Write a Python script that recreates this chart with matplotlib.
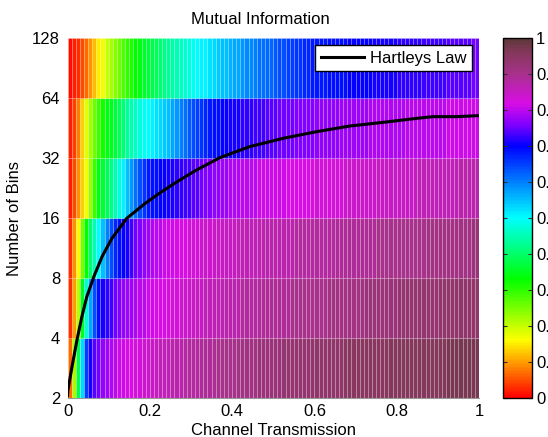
import numpy as np
import matplotlib
matplotlib.use("Agg")
import matplotlib.pyplot as plt
from matplotlib.colors import LinearSegmentedColormap

plt.rcParams['font.family'] = ['Liberation Sans', 'DejaVu Sans']
plt.rcParams['font.size'] = 12

# Bin-count edges (rows) and channel-transmission edges (columns)
bin_edges = [2, 4, 8, 16, 32, 64, 128]
transmission_edges = np.round(np.arange(0, 101) * 0.01, 2)

# Normalised mutual information, one list per row (bottom row first)
mi_bins_2 = [
    0.07, 0.22, 0.38, 0.53, 0.65, 0.71, 0.74, 0.75, 0.77, 0.78,
    0.79, 0.80, 0.81, 0.81, 0.82, 0.82, 0.83, 0.83, 0.84, 0.84,
    0.85, 0.85, 0.86, 0.86, 0.86, 0.87, 0.87, 0.87, 0.88, 0.88,
    0.88, 0.88, 0.89, 0.89, 0.89, 0.89, 0.90, 0.90, 0.90, 0.90,
    0.90, 0.91, 0.91, 0.91, 0.91, 0.91, 0.92, 0.92, 0.92, 0.92,
    0.92, 0.92, 0.93, 0.93, 0.93, 0.93, 0.93, 0.93, 0.93, 0.94,
    0.94, 0.94, 0.94, 0.94, 0.94, 0.94, 0.94, 0.95, 0.95, 0.95,
    0.95, 0.95, 0.95, 0.95, 0.95, 0.95, 0.95, 0.95, 0.96, 0.96,
    0.96, 0.96, 0.96, 0.96, 0.96, 0.96, 0.96, 0.96, 0.96, 0.96,
    0.96, 0.96, 0.97, 0.97, 0.97, 0.97, 0.97, 0.97, 0.97, 0.97,
]
mi_bins_4 = [
    0.03, 0.10, 0.21, 0.35, 0.47, 0.57, 0.64, 0.69, 0.71, 0.72,
    0.73, 0.75, 0.76, 0.77, 0.78, 0.78, 0.79, 0.80, 0.80, 0.81,
    0.81, 0.82, 0.82, 0.82, 0.83, 0.83, 0.83, 0.84, 0.84, 0.84,
    0.85, 0.85, 0.85, 0.86, 0.86, 0.86, 0.86, 0.87, 0.87, 0.87,
    0.87, 0.87, 0.88, 0.88, 0.88, 0.88, 0.88, 0.89, 0.89, 0.89,
    0.89, 0.89, 0.89, 0.89, 0.90, 0.90, 0.90, 0.90, 0.90, 0.90,
    0.90, 0.90, 0.90, 0.91, 0.91, 0.91, 0.91, 0.91, 0.91, 0.91,
    0.91, 0.91, 0.92, 0.92, 0.92, 0.92, 0.92, 0.92, 0.92, 0.92,
    0.93, 0.93, 0.93, 0.93, 0.93, 0.93, 0.93, 0.93, 0.93, 0.93,
    0.93, 0.94, 0.94, 0.94, 0.94, 0.94, 0.94, 0.94, 0.94, 0.94,
]
mi_bins_8 = [
    0.03, 0.09, 0.16, 0.25, 0.33, 0.40, 0.45, 0.50, 0.55, 0.60,
    0.64, 0.67, 0.69, 0.70, 0.71, 0.73, 0.75, 0.76, 0.77, 0.78,
    0.79, 0.80, 0.80, 0.81, 0.81, 0.81, 0.82, 0.82, 0.82, 0.83,
    0.83, 0.83, 0.84, 0.84, 0.84, 0.84, 0.85, 0.85, 0.85, 0.85,
    0.85, 0.86, 0.86, 0.86, 0.86, 0.86, 0.86, 0.87, 0.87, 0.87,
    0.87, 0.87, 0.87, 0.87, 0.87, 0.88, 0.88, 0.88, 0.88, 0.88,
    0.88, 0.88, 0.88, 0.88, 0.88, 0.89, 0.89, 0.89, 0.89, 0.89,
    0.89, 0.89, 0.89, 0.89, 0.89, 0.90, 0.90, 0.90, 0.90, 0.90,
    0.90, 0.90, 0.90, 0.90, 0.90, 0.90, 0.90, 0.91, 0.91, 0.91,
    0.91, 0.91, 0.91, 0.91, 0.91, 0.91, 0.91, 0.91, 0.92, 0.92,
]
mi_bins_16 = [
    0.02, 0.05, 0.09, 0.13, 0.17, 0.23, 0.29, 0.34, 0.37, 0.39,
    0.42, 0.45, 0.48, 0.51, 0.55, 0.58, 0.61, 0.64, 0.66, 0.68,
    0.69, 0.69, 0.70, 0.70, 0.71, 0.71, 0.72, 0.72, 0.73, 0.73,
    0.74, 0.74, 0.75, 0.76, 0.76, 0.77, 0.77, 0.78, 0.78, 0.79,
    0.79, 0.79, 0.80, 0.80, 0.80, 0.80, 0.81, 0.81, 0.81, 0.81,
    0.81, 0.81, 0.81, 0.82, 0.82, 0.82, 0.82, 0.82, 0.82, 0.83,
    0.83, 0.83, 0.83, 0.83, 0.83, 0.83, 0.83, 0.84, 0.84, 0.84,
    0.84, 0.84, 0.84, 0.84, 0.84, 0.85, 0.85, 0.85, 0.85, 0.85,
    0.85, 0.85, 0.85, 0.85, 0.85, 0.86, 0.86, 0.86, 0.86, 0.86,
    0.86, 0.86, 0.86, 0.86, 0.86, 0.87, 0.87, 0.87, 0.87, 0.87,
]
mi_bins_32 = [
    0.02, 0.04, 0.08, 0.13, 0.18, 0.22, 0.26, 0.29, 0.32, 0.34,
    0.35, 0.37, 0.39, 0.41, 0.43, 0.45, 0.46, 0.48, 0.49, 0.50,
    0.51, 0.52, 0.53, 0.54, 0.55, 0.57, 0.58, 0.60, 0.61, 0.63,
    0.64, 0.65, 0.66, 0.67, 0.68, 0.69, 0.69, 0.70, 0.70, 0.71,
    0.71, 0.71, 0.72, 0.72, 0.72, 0.73, 0.73, 0.73, 0.74, 0.74,
    0.74, 0.75, 0.75, 0.75, 0.75, 0.76, 0.76, 0.76, 0.76, 0.76,
    0.77, 0.77, 0.77, 0.77, 0.77, 0.77, 0.78, 0.78, 0.78, 0.78,
    0.78, 0.78, 0.78, 0.79, 0.79, 0.79, 0.79, 0.79, 0.79, 0.79,
    0.79, 0.79, 0.80, 0.80, 0.80, 0.80, 0.80, 0.80, 0.80, 0.80,
    0.80, 0.80, 0.81, 0.81, 0.81, 0.81, 0.81, 0.81, 0.81, 0.81,
]
mi_bins_64 = [
    0.01, 0.02, 0.03, 0.05, 0.07, 0.09, 0.12, 0.15, 0.17, 0.20,
    0.22, 0.24, 0.26, 0.28, 0.30, 0.31, 0.33, 0.34, 0.36, 0.37,
    0.38, 0.39, 0.41, 0.42, 0.43, 0.44, 0.45, 0.46, 0.47, 0.48,
    0.49, 0.50, 0.51, 0.51, 0.52, 0.53, 0.54, 0.55, 0.55, 0.56,
    0.57, 0.57, 0.58, 0.59, 0.59, 0.60, 0.61, 0.61, 0.62, 0.62,
    0.63, 0.64, 0.64, 0.65, 0.65, 0.66, 0.66, 0.67, 0.67, 0.68,
    0.68, 0.68, 0.68, 0.69, 0.69, 0.69, 0.69, 0.69, 0.70, 0.70,
    0.70, 0.70, 0.70, 0.70, 0.71, 0.71, 0.71, 0.71, 0.71, 0.71,
    0.72, 0.72, 0.72, 0.72, 0.72, 0.72, 0.73, 0.73, 0.73, 0.73,
    0.73, 0.73, 0.74, 0.74, 0.74, 0.74, 0.74, 0.74, 0.75, 0.75,
]

# Hartley's law: number of distinguishable levels vs. transmission
hartley_x = [0.0, 0.001, 0.011, 0.023, 0.035, 0.047, 0.064, 0.084, 0.108,
             0.144, 0.189, 0.229, 0.27, 0.31, 0.347, 0.37, 0.443, 0.525,
             0.606, 0.686, 0.767, 0.849, 0.889, 0.946, 0.998]
hartley_bins = [2.05, 2.19, 2.87, 3.91, 5.12, 6.45, 8.12, 10.24, 12.65,
                15.94, 18.95, 21.69, 24.6, 27.6, 30.3, 32.1, 36.5, 40.2,
                43.4, 46.3, 48.3, 50.6, 51.6, 51.6, 52.2]

colorbar_ticks = [0, 0.1, 0.2, 0.3, 0.4, 0.5, 0.6, 0.7, 0.8, 0.9, 1]
x_ticks = [0, 0.2, 0.4, 0.6, 0.8, 1]

# Rainbow map that runs red -> violet and then fades to a dark brown
cmap = LinearSegmentedColormap.from_list("mi_rainbow", [
    (0.00, (1.00, 0.00, 0.00)),
    (0.08, (1.00, 0.50, 0.00)),
    (0.16, (1.00, 1.00, 0.00)),
    (0.33, (0.00, 1.00, 0.00)),
    (0.50, (0.00, 1.00, 1.00)),
    (0.70, (0.00, 0.00, 1.00)),
    (0.76, (0.50, 0.00, 1.00)),
    (0.82, (0.85, 0.05, 0.90)),
    (0.90, (0.66, 0.19, 0.55)),
    (0.96, (0.52, 0.22, 0.36)),
    (1.00, (0.36, 0.22, 0.22)),
], N=256)

mi = np.array([mi_bins_2, mi_bins_4, mi_bins_8, mi_bins_16, mi_bins_32, mi_bins_64])

W, H = 548, 437
fig = plt.figure(figsize=(W / 100, H / 100), dpi=100)
ax = fig.add_axes([67.5 / W, 39 / H, 411.5 / W, 360 / H])
cax = fig.add_axes([503 / W, 39 / H, 29 / W, 360 / H])

mesh = ax.pcolormesh(transmission_edges, bin_edges, mi, cmap=cmap, vmin=0, vmax=1,
                     edgecolors=(1, 1, 1, 0.22), linewidth=0.5, antialiased=True)
ax.plot(hartley_x, hartley_bins, color='black', linewidth=2.2, label='Hartleys Law')

ax.set_yscale('log', base=2)
ax.set_ylim(bin_edges[0], bin_edges[-1])
ax.set_xlim(0, 1)
ax.set_yticks(bin_edges)
ax.set_yticklabels([str(b) for b in bin_edges])
ax.set_xticks(x_ticks)
ax.set_xticklabels(['0', '0.2', '0.4', '0.6', '0.8', '1'])
ax.minorticks_off()
ax.tick_params(axis='y', length=0, pad=5.4, labelsize=12)
ax.tick_params(axis='x', length=0, pad=4, labelsize=12)
for s in ax.spines.values():
    s.set_visible(False)
ax.spines['bottom'].set_visible(True)
ax.spines['bottom'].set_color('#999999')
ax.spines['bottom'].set_linewidth(0.8)

fig.text(260.5 / W, 1 - 20 / H, 'Mutual Information', fontsize=12,
         ha='center', va='center')
ax.set_xlabel('Channel Transmission', fontsize=12, labelpad=3)
ax.set_ylabel('Number of Bins', fontsize=12, labelpad=7)

leg = ax.legend(loc='upper right', fancybox=False, framealpha=1, edgecolor='black',
                fontsize=12, borderaxespad=0.4, handlelength=2.6, borderpad=0.35,
                handletextpad=0.35)
leg.get_frame().set_linewidth(1.0)

cb = fig.colorbar(mesh, cax=cax, ticks=colorbar_ticks)
cb.ax.set_yticklabels([('%g' % t) for t in colorbar_ticks])
cb.outline.set_linewidth(1.0)
cb.ax.tick_params(direction='in', left=True, right=True, length=3, width=0.8,
                  color='#333333', labelsize=12, pad=3)

fig.savefig('out.png', dpi=100)
